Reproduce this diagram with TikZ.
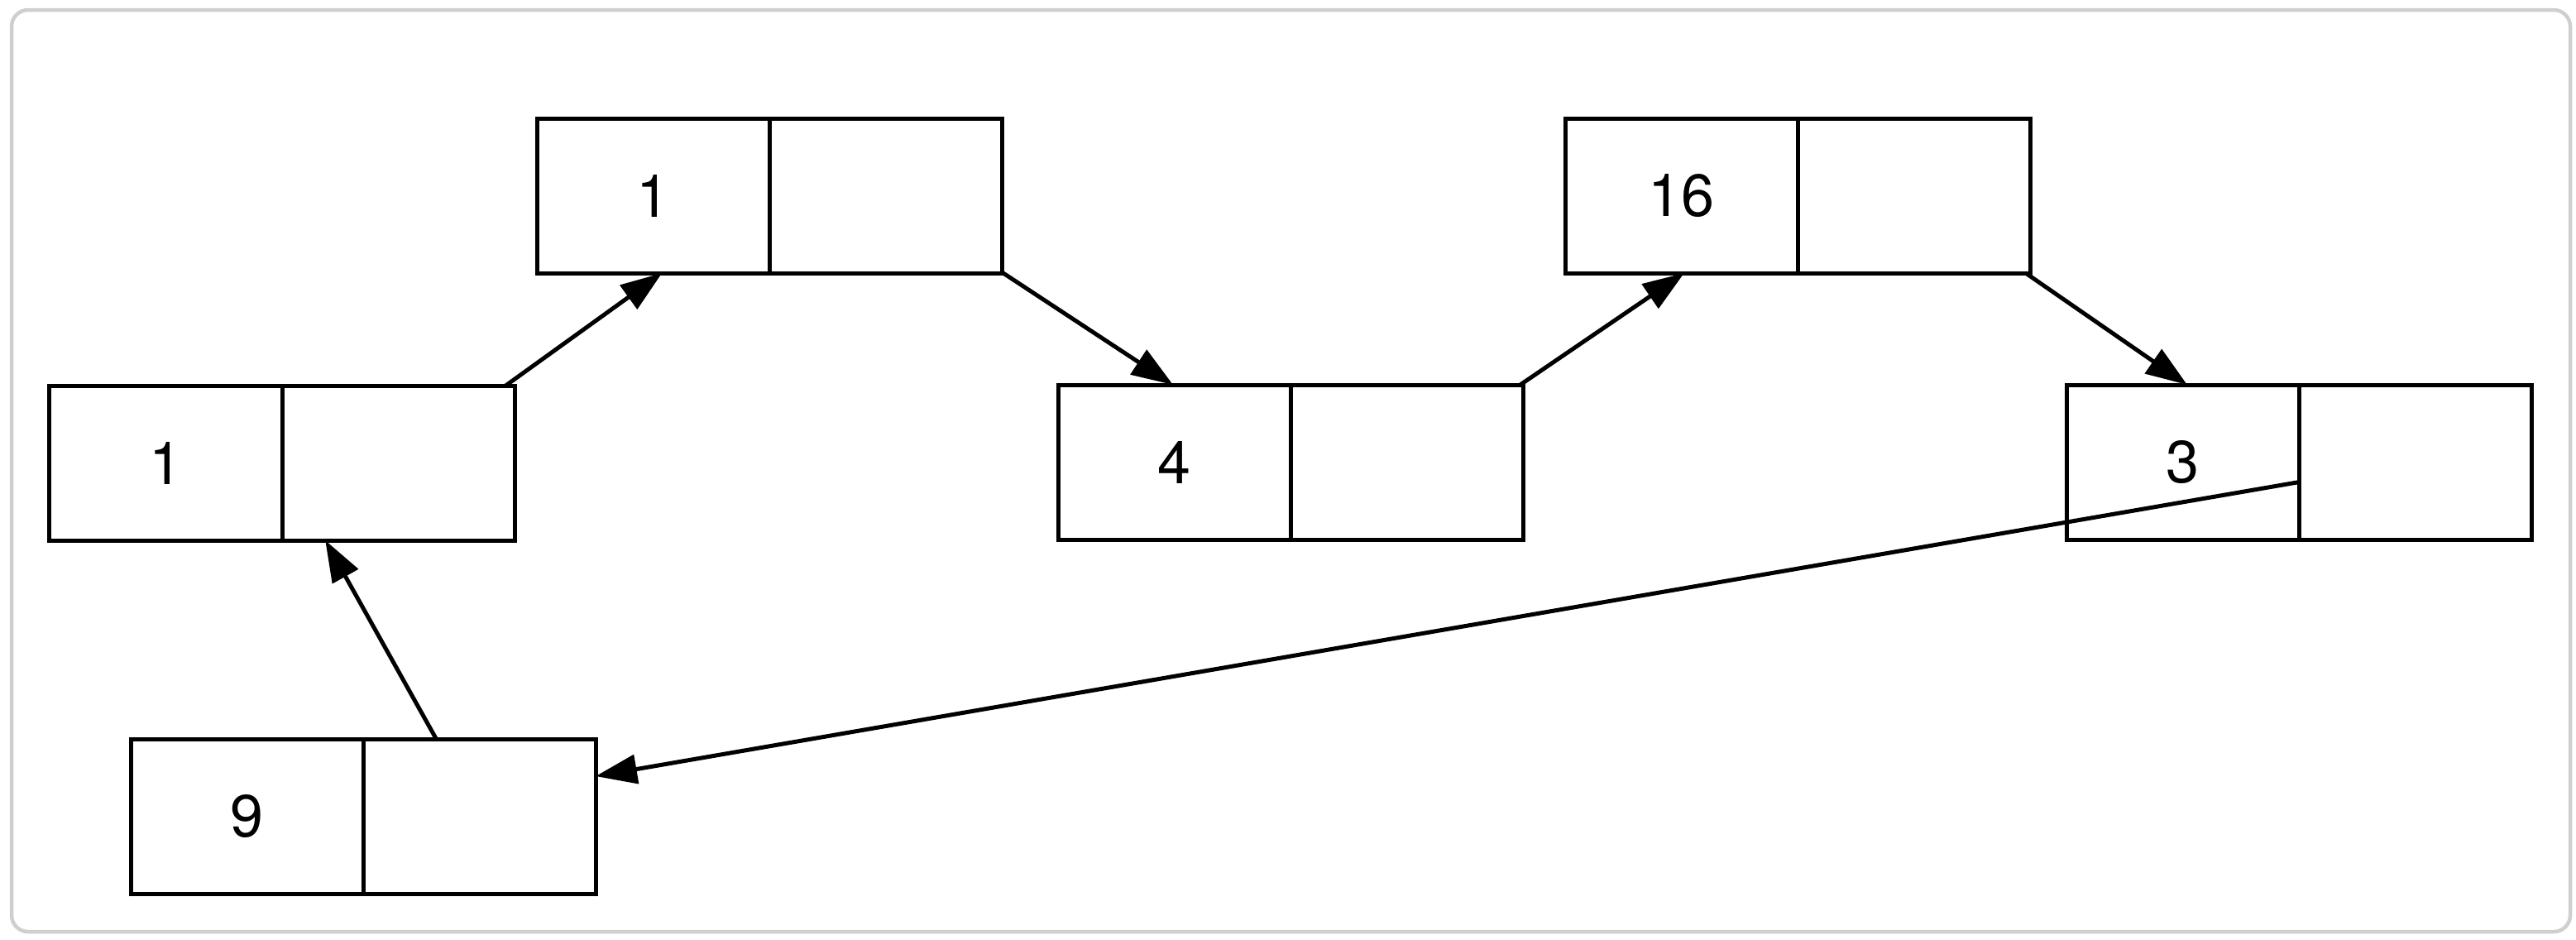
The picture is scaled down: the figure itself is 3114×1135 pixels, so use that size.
\documentclass[tikz,border=0pt]{standalone}
\usepackage{fontspec}
\setmainfont{TeX Gyre Heros}
\usetikzlibrary{arrows.meta,positioning,fit}

\begin{document}
\begin{tikzpicture}[x=0.2pt,y=-0.2pt,
  cell/.style={draw,line width=1pt,minimum width=56.2pt,minimum height=37.4pt,inner sep=0pt,outer sep=0pt,font=\fontsize{14.4}{17}\selectfont},
  rec/.style={inner sep=0pt,outer sep=0pt},
  link/.style={line width=1pt,-{Triangle[length=10pt,width=7pt]}}]
\useasboundingbox (0,0) rectangle (3114,1135);
\draw[line width=0.9pt,black!19,rounded corners=4pt] (14,12) rectangle (3107,1126);
% records: value cell, pointer cell, whole record
\node[cell] (av) at (789.5,236.5) {1};
\node[cell,right=0pt of av] (ap) {};
\node[rec,fit=(av)(ap)] (a) {};
\node[cell] (bv) at (200.5,559.5) {1};
\node[cell,right=0pt of bv] (bp) {};
\node[rec,fit=(bv)(bp)] (b) {};
\node[cell] (cv) at (1419.5,558.5) {4};
\node[cell,right=0pt of cv] (cp) {};
\node[rec,fit=(cv)(cp)] (c) {};
\node[cell] (dv) at (2032.5,236.5) {16};
\node[cell,right=0pt of dv] (dp) {};
\node[rec,fit=(dv)(dp)] (d) {};
\node[cell] (ev) at (2638.5,558.5) {3};
\node[cell,right=0pt of ev] (ep) {};
\node[rec,fit=(ev)(ep)] (e) {};
\node[cell] (fv) at (298.5,986.5) {9};
\node[cell,right=0pt of fv] (fp) {};
\node[rec,fit=(fv)(fp)] (f) {};
% next pointers
\draw[link] (bp) -- (a);
\draw[link] (ap) -- (c);
\draw[link] (cp) -- (d);
\draw[link] (dp) -- (e);
\draw[link] (ep) -- (f);
\draw[link] (fp) -- (b);
\end{tikzpicture}
\end{document}
